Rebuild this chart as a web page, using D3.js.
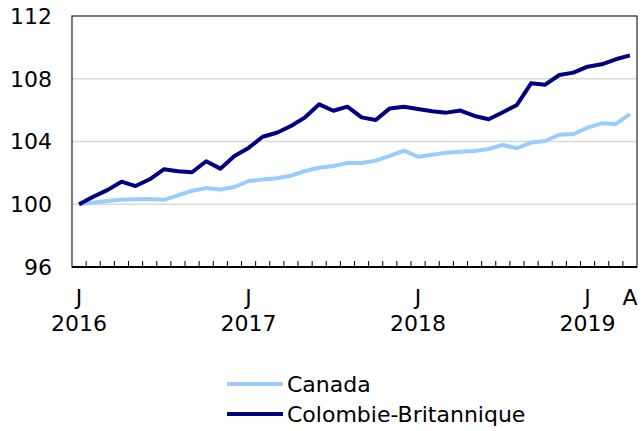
<!DOCTYPE html>
<html>
<head>
<meta charset="utf-8">
<script src="https://cdn.jsdelivr.net/npm/d3@7"></script>
<style>
  html, body { margin: 0; padding: 0; background: #fff; }
  svg { display: block; }
  text { font-family: "DejaVu Sans", Verdana, sans-serif; fill: #000; }
</style>
</head>
<body>
<svg id="chart" width="643" height="431"></svg>
<script>
// Monthly categories, January 2016 to April 2019
const months = [
  "2016-01","2016-02","2016-03","2016-04","2016-05","2016-06","2016-07","2016-08","2016-09","2016-10","2016-11","2016-12",
  "2017-01","2017-02","2017-03","2017-04","2017-05","2017-06","2017-07","2017-08","2017-09","2017-10","2017-11","2017-12",
  "2018-01","2018-02","2018-03","2018-04","2018-05","2018-06","2018-07","2018-08","2018-09","2018-10","2018-11","2018-12",
  "2019-01","2019-02","2019-03","2019-04"
];

// Index values (January 2016 = 100)
const canada = [
  100.00, 100.10, 100.20, 100.29, 100.32, 100.34, 100.28, 100.56, 100.86, 101.03, 100.94, 101.10,
  101.48, 101.58, 101.66, 101.82, 102.12, 102.33, 102.44, 102.63, 102.63, 102.78, 103.08, 103.42,
  103.03, 103.16, 103.29, 103.35, 103.40, 103.52, 103.78, 103.57, 103.93, 104.03, 104.43, 104.48,
  104.88, 105.16, 105.12, 105.74
];
const colombieBritannique = [
  100.00, 100.48, 100.90, 101.44, 101.16, 101.59, 102.23, 102.10, 102.04, 102.74, 102.27, 103.08,
  103.59, 104.30, 104.56, 104.99, 105.54, 106.37, 105.96, 106.22, 105.54, 105.37, 106.11, 106.22,
  106.07, 105.93, 105.84, 105.97, 105.63, 105.42, 105.86, 106.33, 107.71, 107.62, 108.24, 108.39,
  108.77, 108.92, 109.24, 109.49
];

const yTicks = [96, 100, 104, 108, 112];
const monthTickLabels = { "2016-01": "J", "2017-01": "J", "2018-01": "J", "2019-01": "J", "2019-04": "A" };
const yearTickLabels = { "2016-01": "2016", "2017-01": "2017", "2018-01": "2018", "2019-01": "2019" };

const series = [
  { name: "Canada", values: canada, color: "#99ccff" },
  { name: "Colombie-Britannique", values: colombieBritannique, color: "#000080" }
];

const W = 643, H = 431;
const margin = { top: 16, right: 6, bottom: 164, left: 72 };
const svg = d3.select("#chart");

const x = d3.scaleBand().domain(months).range([margin.left, W - margin.right]).padding(0);
const y = d3.scaleLinear().domain([96, 112]).range([H - margin.bottom, margin.top]);
const cx = d => x(d) + x.bandwidth() / 2;

// Horizontal gridlines
svg.append("g")
  .selectAll("line")
  .data(yTicks.filter(v => v > 96 && v < 112))
  .join("line")
  .attr("x1", margin.left).attr("x2", W - margin.right)
  .attr("y1", d => y(d)).attr("y2", d => y(d))
  .attr("stroke", "#d9d9d9").attr("stroke-width", 1.5);

// Frame
svg.append("rect")
  .attr("x", margin.left).attr("y", margin.top)
  .attr("width", W - margin.right - margin.left)
  .attr("height", H - margin.bottom - margin.top)
  .attr("fill", "none").attr("stroke", "#222").attr("stroke-width", 1.2);

// Y axis labels
svg.append("g")
  .selectAll("text")
  .data(yTicks)
  .join("text")
  .attr("x", 52).attr("y", d => y(d))
  .attr("dy", "0.36em")
  .attr("text-anchor", "end")
  .attr("font-size", 22)
  .text(d => d);

// Bottom axis line and inward ticks at month boundaries
const baseY = y(96);
svg.append("line")
  .attr("x1", margin.left).attr("x2", W - margin.right)
  .attr("y1", baseY).attr("y2", baseY)
  .attr("stroke", "#000").attr("stroke-width", 2);
svg.append("g")
  .selectAll("line")
  .data(months.slice(1))
  .join("line")
  .attr("x1", d => x(d)).attr("x2", d => x(d))
  .attr("y1", baseY).attr("y2", baseY - 6)
  .attr("stroke", "#000").attr("stroke-width", 1);

// Month initials and years
svg.append("g")
  .selectAll("text")
  .data(months.filter(m => monthTickLabels[m]))
  .join("text")
  .attr("x", d => cx(d)).attr("y", 305)
  .attr("text-anchor", "middle")
  .attr("font-size", 22)
  .text(d => monthTickLabels[d]);
svg.append("g")
  .selectAll("text")
  .data(months.filter(m => yearTickLabels[m]))
  .join("text")
  .attr("x", d => cx(d)).attr("y", 331)
  .attr("text-anchor", "middle")
  .attr("font-size", 22)
  .text(d => yearTickLabels[d]);

// Series lines
const line = d3.line().x((d, i) => cx(months[i])).y(d => y(d));
svg.append("g")
  .selectAll("path")
  .data(series)
  .join("path")
  .attr("d", s => line(s.values))
  .attr("fill", "none")
  .attr("stroke", s => s.color)
  .attr("stroke-width", 4)
  .attr("stroke-linejoin", "round");

// Legend
const legend = svg.append("g")
  .selectAll("g")
  .data(series)
  .join("g")
  .attr("transform", (s, i) => `translate(227, ${384 + i * 30})`);
legend.append("line")
  .attr("x1", 0).attr("x2", 56)
  .attr("stroke", s => s.color).attr("stroke-width", 4);
legend.append("text")
  .attr("x", 60).attr("y", 8)
  .attr("font-size", 22)
  .text(s => s.name);
</script>
</body>
</html>
